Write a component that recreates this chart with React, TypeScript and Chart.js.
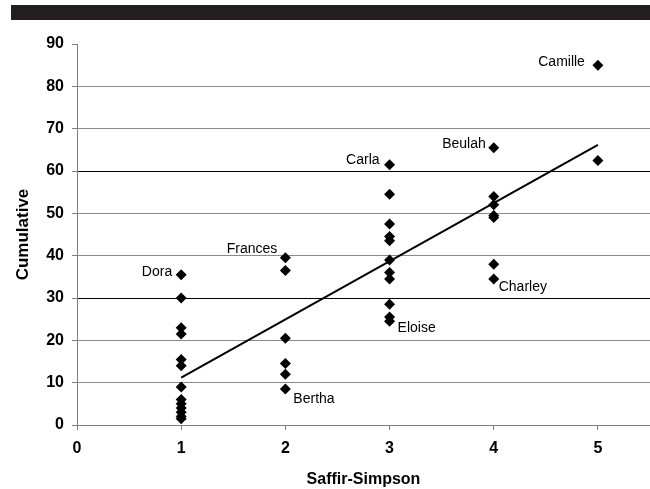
import React, { useEffect, useRef } from "react";
import { Chart, registerables } from "chart.js";

Chart.register(...registerables);

// Saffir-Simpson category -> cumulative values
const categories = [1, 2, 3, 4, 5];
const cat1Values = [35.5, 30, 23, 21.5, 15.5, 14, 9, 6, 5, 4, 3, 2, 1.5];
const cat2Values = [39.5, 36.5, 20.5, 14.5, 12, 8.5];
const cat3Values = [61.5, 54.5, 47.5, 44.5, 43.5, 39, 36, 34.5, 28.5, 25.5, 24.5];
const cat4Values = [65.5, 54, 52, 49.5, 49, 38, 34.5];
const cat5Values = [85, 62.5];

// Linear trend line endpoints
const trendX = [1, 5];
const trendY = [11.2, 66.2];

// Named storms
const stormNames = ["Dora", "Frances", "Carla", "Beulah", "Camille", "Bertha", "Eloise", "Charley"];
const stormCats = [1, 2, 3, 4, 5, 2, 3, 4];
const stormValues = [35.5, 39.5, 61.5, 65.5, 85, 8.5, 24.5, 34.5];

// Label placement (style only)
const labelStyle: { [k: string]: { dx: number; dy: number; align: CanvasTextAlign } } = {
  Dora: { dx: -9, dy: -3, align: "right" },
  Frances: { dx: -8, dy: -9, align: "right" },
  Carla: { dx: -10, dy: -5, align: "right" },
  Beulah: { dx: -8, dy: -4, align: "right" },
  Camille: { dx: -13, dy: -3, align: "right" },
  Bertha: { dx: 8, dy: 10, align: "left" },
  Eloise: { dx: 8, dy: 7, align: "left" },
  Charley: { dx: 5, dy: 8, align: "left" },
};

const yTicks = [0, 10, 20, 30, 40, 50, 60, 70, 80, 90];
const xTicks = [0, 1, 2, 3, 4, 5];

const FONT = "'Liberation Sans', Arial, sans-serif";

export default function App() {
  const ref = useRef<HTMLCanvasElement | null>(null);

  useEffect(() => {
    if (!ref.current) return;
    const valueSets = [cat1Values, cat2Values, cat3Values, cat4Values, cat5Values];
    const points: { x: number; y: number }[] = [];
    categories.forEach((c, i) => valueSets[i].forEach((v) => points.push({ x: c, y: v })));
    const trend = trendX.map((x, i) => ({ x, y: trendY[i] }));

    const labelPlugin = {
      id: "stormLabels",
      afterDatasetsDraw(chart: any) {
        const ctx = chart.ctx;
        const xs = chart.scales.x;
        const ys = chart.scales.y;
        ctx.save();
        ctx.font = `14px ${FONT}`;
        ctx.fillStyle = "#000";
        ctx.textBaseline = "middle";
        stormNames.forEach((name, i) => {
          const st = labelStyle[name];
          const px = xs.getPixelForValue(stormCats[i]);
          const py = ys.getPixelForValue(stormValues[i]);
          ctx.textAlign = st.align;
          ctx.fillText(name, px + st.dx, py + st.dy);
        });
        ctx.restore();
      },
    };

    const chart = new Chart(ref.current, {
      type: "scatter",
      data: {
        datasets: [
          {
            data: trend,
            showLine: true,
            borderColor: "#000",
            borderWidth: 2,
            pointRadius: 0,
            fill: false,
          },
          {
            data: points,
            pointStyle: "rectRot",
            pointRadius: 5.5,
            pointBackgroundColor: "#000",
            pointBorderColor: "#000",
            pointBorderWidth: 0,
          },
        ],
      },
      options: {
        responsive: false,
        animation: false,
        layout: { autoPadding: false, padding: { top: 44, left: 0, right: 0, bottom: 0 } },
        plugins: { legend: { display: false }, tooltip: { enabled: false } },
        scales: {
          x: {
            type: "linear",
            min: 0,
            max: 5.5,
            afterFit: (s: any) => {
              s.height = 64;
              s.paddingRight = 0;
              s.paddingLeft = 0;
            },
            afterBuildTicks: (s: any) => {
              s.ticks = xTicks.map((v) => ({ value: v }));
            },
            ticks: {
              color: "#000",
              font: { family: FONT, size: 16, weight: "bold" },
              padding: 9,
            },
            grid: {
              drawOnChartArea: false,
              drawTicks: true,
              tickLength: 5,
              tickColor: "#808080",
              color: "#808080",
            },
            border: { color: "#808080", width: 1 },
            title: {
              display: true,
              text: "Saffir-Simpson",
              color: "#000",
              font: { family: FONT, size: 16, weight: "bold" },
              padding: { top: 0, bottom: 0 },
            },
          },
          y: {
            type: "linear",
            min: 0,
            max: 90,
            afterFit: (s: any) => {
              s.width = 77;
            },
            afterBuildTicks: (s: any) => {
              s.ticks = yTicks.map((v) => ({ value: v }));
            },
            ticks: {
              color: "#000",
              font: { family: FONT, size: 16, weight: "bold" },
              padding: 8,
            },
            grid: {
              drawTicks: true,
              tickLength: 5,
              tickColor: "#808080",
              color: (c: any) => {
                const v = c.tick ? c.tick.value : 0;
                if (v === 90) return "rgba(0,0,0,0)";
                if (v === 30 || v === 60) return "#000";
                return "#8a8a8a";
              },
              lineWidth: 1,
            },
            border: { color: "#808080", width: 1 },
            title: {
              display: true,
              text: "Cumulative",
              color: "#000",
              font: { family: FONT, size: 17, weight: "bold" },
              padding: { top: 13, bottom: 0 },
            },
          },
        },
      },
      plugins: [labelPlugin],
    } as any);

    return () => chart.destroy();
  }, []);

  return (
    <div style={{ position: "absolute", left: 0, top: 0, width: 650, height: 489, background: "#fff" }}>
      <div
        style={{ position: "absolute", left: 11, top: 5, width: 639, height: 15, background: "#231f20" }}
      />
      <canvas ref={ref} width={650} height={489} style={{ position: "absolute", left: 0, top: 0 }} />
    </div>
  );
}
